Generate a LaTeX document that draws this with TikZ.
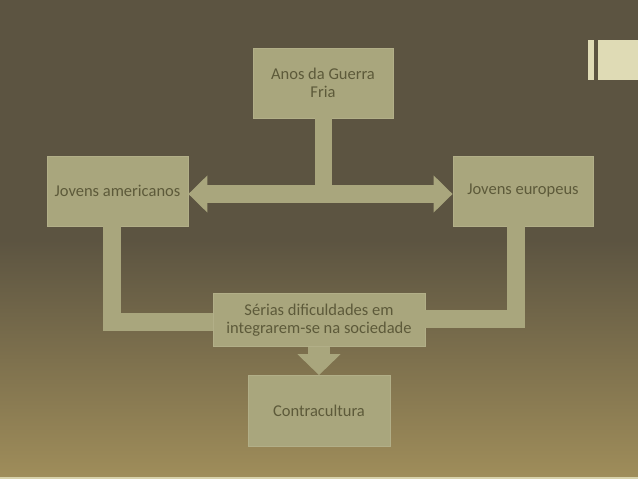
\documentclass[tikz,border=0pt]{standalone}
\usepackage{fontspec}
\setmainfont{Carlito}
\usepackage{tikz}
\usetikzlibrary{arrows.meta}
\definecolor{Backdrop}{HTML}{5C5441}
\definecolor{BackdropLow}{HTML}{9F8D5A}
\definecolor{Khaki}{HTML}{A9A67D}
\definecolor{KhakiEdge}{HTML}{B2AF88}
\definecolor{Olive}{HTML}{5D5A3A}
\definecolor{Cream}{HTML}{DFDBB5}
\begin{document}
\begin{tikzpicture}[x=1pt,y=-1pt,
  box/.style={draw=KhakiEdge,fill=Khaki,line width=0.8pt,minimum width=#1,align=center,text=Olive,font=\fontsize{16.5}{18.5}\selectfont,inner sep=0pt},
  fat/.style={draw=Khaki,line width=18pt,line join=miter},
  tipH/.style={-{Triangle[width=36pt,length=19pt]}},
  tipV/.style={-{Triangle[width=42pt,length=21pt]}}
]
\useasboundingbox (0,0) rectangle (638,479);
\fill[Backdrop] (0,0) rectangle (638,240);
\shade[top color=Backdrop,bottom color=BackdropLow] (0,240) rectangle (638,477);
\fill[Cream!90!BackdropLow] (0,477) rectangle (638,479);
\fill[Cream] (588,40) rectangle (594,80);
\fill[Cream] (598,40) rectangle (638,80);
\node[box=140pt,minimum height=70pt] (guerra) at (323,83) {Anos da Guerra\\Fria};
\node[box=141pt,minimum height=70pt] (americanos) at (117.5,191) {Jovens americanos};
\node[box=140pt,minimum height=70pt] (europeus) at (523,191) {Jovens europeus};
\node[box=212pt,minimum height=53pt] (sociedade) at (319,320) {Sérias dificuldades em\\integrarem-se na sociedade};
\node[box=142pt,minimum height=71pt] (contracultura) at (319,411) {Contracultura};
\coordinate (junction) at ([yshift=-3pt]americanos.east -| guerra.south);
\draw[fat,line width=17pt] (guerra.south) -- (junction);
\draw[fat,tipH] (junction) -- ([yshift=-3pt]americanos.east);
\draw[fat,tipH] (junction) -- ([yshift=-3pt]europeus.west);
\draw[fat] ([xshift=-5.5pt]americanos.south) |- ([yshift=-2pt]sociedade.west);
\draw[fat] ([xshift=-7pt]europeus.south) |- ([yshift=1pt]sociedade.east);
\draw[fat,line width=22pt,tipV] (sociedade.south) -- (contracultura.north);
\end{tikzpicture}
\end{document}
